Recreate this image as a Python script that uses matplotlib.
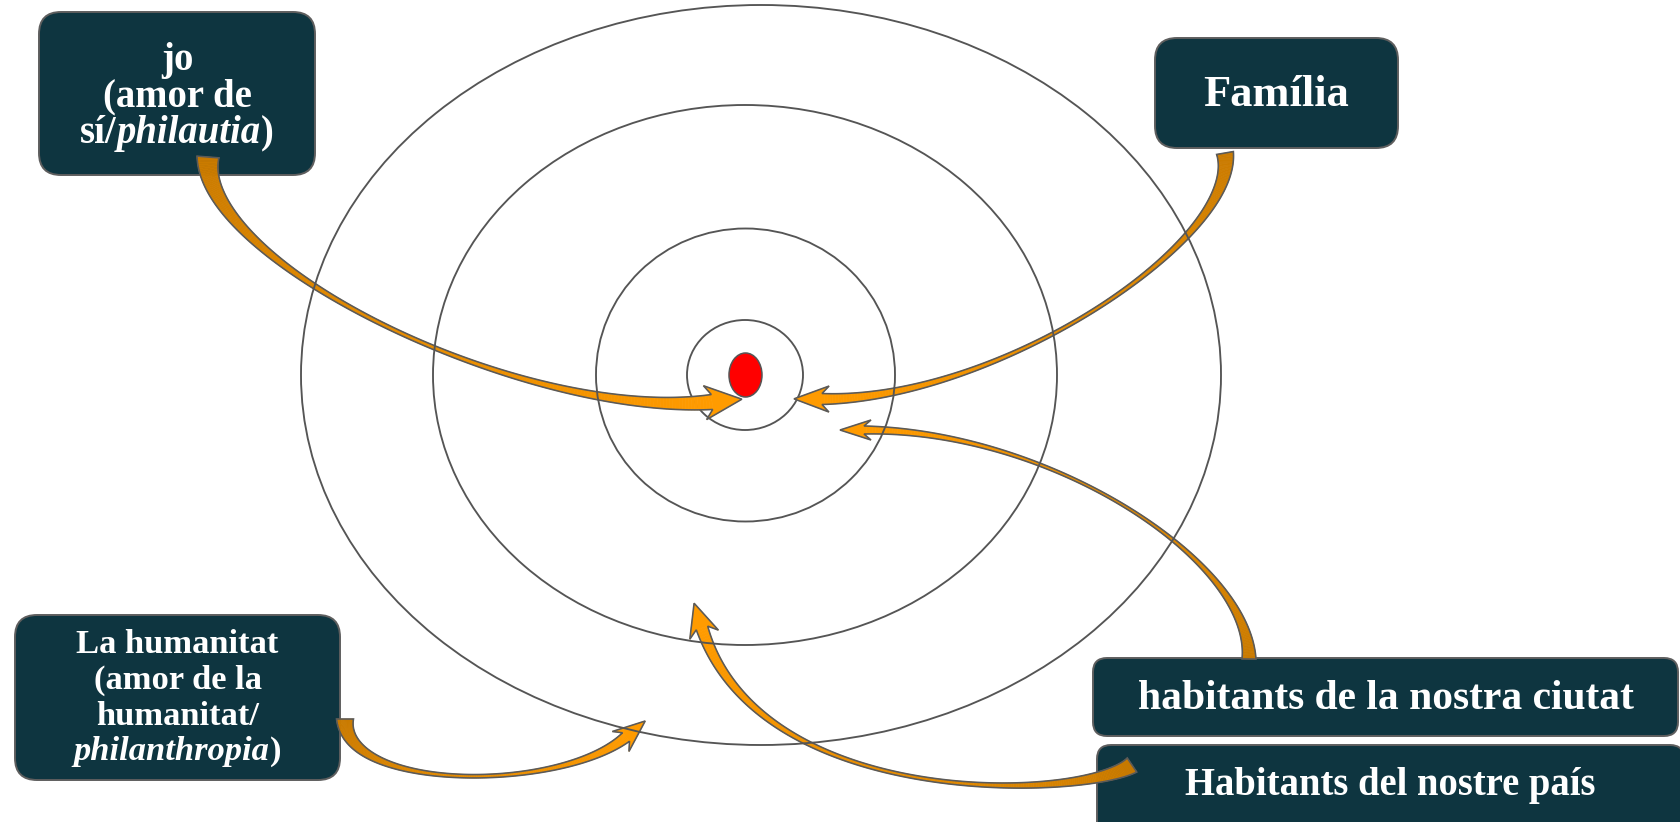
import numpy as np
import matplotlib
matplotlib.use("Agg")
import matplotlib.pyplot as plt
from matplotlib.patches import Ellipse, FancyBboxPatch, Polygon
from matplotlib.collections import PolyCollection
from matplotlib.colors import to_rgb

# ---------------- content ----------------
# each label: list of lines, each line a list of (text, italic?) segments
label_jo = [[("jo", False)], [("(amor de", False)], [("sí/", False), ("philautia", True), (")", False)]]
label_familia = [[("Família", False)]]
label_humanitat = [[("La humanitat", False)], [("(amor de la", False)],
                   [("humanitat/", False)], [("philanthropia", True), (")", False)]]
label_ciutat = [[("habitants de la nostra ciutat", False)]]
label_pais = [[("Habitants del nostre país", False)]]

# concentric circles (width, height, centre x, centre y) in pixel units
ring_w = [920, 624, 299, 116]
ring_h = [740, 540, 293, 110]
ring_cx = [761, 745, 745.5, 745]
ring_cy = [375, 375, 375, 375]
dot_w, dot_h, dot_cx, dot_cy = 33, 44, 745.5, 375

# curved arrows: cubic Bezier control points (tail -> head base)
arrow_jo = [(208, 157), (200, 262), (520, 420), (712, 402)]
arrow_familia = [(1225, 153), (1240, 240), (1000, 400), (822, 399)]
arrow_ciutat = [(1249, 659), (1250, 560), (1050, 430), (864, 430)]
arrow_pais = [(1132, 765), (1080, 800), (760, 810), (702, 628)]
arrow_humanitat = [(345, 719), (345, 792), (560, 792), (626, 737)]

# ---------------- styling ----------------
BOX_FC = "#0E3540"
BOX_EC = "#5E5E5E"
LINE_C = "#555555"
C_TAIL = np.array(to_rgb("#C97A00"))
C_HEAD = np.array(to_rgb("#FF9B00"))
FONT = ["Liberation Serif", "DejaVu Serif"]

fig = plt.figure(figsize=(16.8, 8.22), dpi=100)
ax = fig.add_axes([0, 0, 1, 1])
ax.set_xlim(0, 1680)
ax.set_ylim(822, 0)
ax.axis("off")

# rings
for w, h, cx, cy, z in zip(ring_w, ring_h, ring_cx, ring_cy, [7, 7, 7, 3]):
    ax.add_patch(Ellipse((cx, cy), w, h, fill=False, ec=LINE_C, lw=1.35, zorder=z))
ax.add_patch(Ellipse((dot_cx, dot_cy), dot_w, dot_h, fc="#FF0000", ec=LINE_C, lw=1.1, zorder=3))


def bez(P, t):
    P = np.asarray(P, float)
    t = t[:, None]
    return ((1 - t) ** 3) * P[0] + 3 * t * (1 - t) ** 2 * P[1] + 3 * t ** 2 * (1 - t) * P[2] + t ** 3 * P[3]


def bez_d(P, t):
    P = np.asarray(P, float)
    t = t[:, None]
    return 3 * (1 - t) ** 2 * (P[1] - P[0]) + 6 * (1 - t) * t * (P[2] - P[1]) + 3 * t ** 2 * (P[3] - P[2])


def draw_arrow(P, w0, wm, w1, hw, hl, notch=7, n=200):
    t = np.linspace(0, 1, n)
    B = bez(P, t)
    D = bez_d(P, t)
    D /= np.linalg.norm(D, axis=1)[:, None]
    N = np.stack([-D[:, 1], D[:, 0]], axis=1)
    w = wm + (w0 - wm) * (1 - t) ** 4 + (w1 - wm) * t ** 4
    L = B + N * w[:, None] / 2
    R = B - N * w[:, None] / 2
    quads, cols = [], []
    for i in range(n - 1):
        quads.append([L[i], L[i + 1], R[i + 1], R[i]])
        s = (t[i] + t[i + 1]) / 2
        cols.append(tuple(C_TAIL * (1 - s) + C_HEAD * s))
    pc = PolyCollection(quads, facecolors=cols, edgecolors=cols, linewidths=0.5, zorder=5)
    ax.add_collection(pc)
    tip = B[-1] + D[-1] * hl
    lb = B[-1] + N[-1] * hw / 2 - D[-1] * notch
    rb = B[-1] - N[-1] * hw / 2 - D[-1] * notch
    head = [L[-1], lb, tip, rb, R[-1]]
    ax.add_patch(Polygon(head, closed=True, fc=C_HEAD, ec=C_HEAD, lw=0.5, zorder=5))
    outline = np.vstack([L, [lb, tip, rb], R[::-1]])
    ax.add_patch(Polygon(outline, closed=True, fill=False, ec="#5A5A5A", lw=1.15,
                         joinstyle="miter", zorder=6))


draw_arrow(arrow_jo, 22, 2, 15, 34, 30)
draw_arrow(arrow_familia, 17, 2, 11, 26, 28)
draw_arrow(arrow_ciutat, 14, 1.6, 8, 20, 24)
draw_arrow(arrow_pais, 17, 2, 12, 30, 26)
draw_arrow(arrow_humanitat, 17, 2, 11, 26, 25)

# boxes + text
renderer = fig.canvas.get_renderer()


def seg_width(s, italic, size):
    tt = ax.text(0, 0, s, fontsize=size, fontweight="bold",
                 fontstyle="italic" if italic else "normal", family=FONT)
    wd = tt.get_window_extent(renderer).width
    tt.remove()
    return wd


def draw_box(x0, y0, x1, y1, lines, baselines, fit_line, fit_w, rs=22):
    ax.add_patch(FancyBboxPatch((x0, y0), x1 - x0, y1 - y0,
                                boxstyle=f"round,pad=0,rounding_size={rs}",
                                fc=BOX_FC, ec=BOX_EC, lw=1.4, zorder=4))
    ref = sum(seg_width(s, it, 20) for s, it in lines[fit_line])
    size = 20 * fit_w / ref
    cx = (x0 + x1) / 2
    for segs, yb in zip(lines, baselines):
        widths = [seg_width(s, it, size) for s, it in segs]
        x = cx - sum(widths) / 2
        for (s, it), wd in zip(segs, widths):
            ax.text(x, yb, s, fontsize=size, fontweight="bold",
                    fontstyle="italic" if it else "normal", family=FONT,
                    color="white", ha="left", va="baseline", zorder=8)
            x += wd


draw_box(39, 12, 315, 175, label_jo, [70, 106, 143], 1, 149)
draw_box(1155, 38, 1398, 148, label_familia, [106], 0, 146)
draw_box(15, 615, 340, 780, label_humanitat, [653, 689, 725, 760], 0, 202)
draw_box(1093, 658, 1678, 736, label_ciutat, [709], 0, 496, rs=14)
draw_box(1097, 745, 1684, 836, label_pais, [795], 0, 410, rs=14)

fig.savefig("out.png", dpi=100, facecolor="white")
